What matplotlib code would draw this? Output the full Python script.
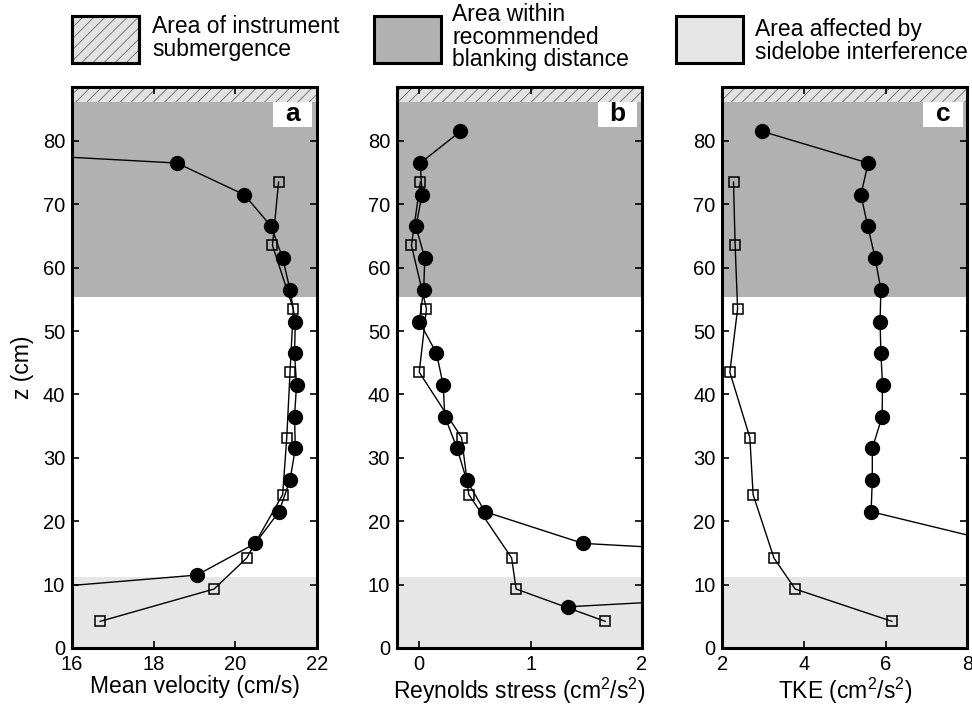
import matplotlib
matplotlib.use("Agg")
import matplotlib.pyplot as plt
from matplotlib.patches import Rectangle

plt.rcParams['font.family'] = ['Liberation Sans', 'DejaVu Sans']
plt.rcParams['mathtext.fontset'] = 'custom'
plt.rcParams['mathtext.rm'] = 'Liberation Sans'
plt.rcParams['mathtext.default'] = 'regular'
plt.rcParams['hatch.linewidth'] = 0.6

# depths of the two profiles (cm)
z_circle = [81.5, 76.5, 71.5, 66.5, 61.5, 56.5, 51.5, 46.5, 41.5, 36.5,
            31.5, 26.5, 21.5, 16.5, 11.5, 6.5]
z_square = [73.5, 63.5, 53.5, 43.5, 33.2, 24.2, 14.2, 9.3, 4.2]

# a: mean velocity (cm/s)
vel_circle = [4.3, 18.57, 20.22, 20.88, 21.16, 21.34, 21.47, 21.45, 21.5, 21.45,
              21.47, 21.34, 21.07, 20.49, 19.06, 9.7]
vel_square = [21.06, 20.91, 21.42, 21.34, 21.26, 21.16, 20.28, 19.48, 16.69]

# b: Reynolds stress (cm2/s2)
rs_circle = [0.37, 0.01, 0.025, -0.03, 0.05, 0.04, 0.0, 0.155, 0.215, 0.23,
             0.34, 0.425, 0.59, 1.47, 6.6, 1.34]
rs_square = [0.01, -0.07, 0.065, 0.0, 0.38, 0.445, 0.83, 0.87, 1.67]

# c: TKE (cm2/s2)
tke_circle = [2.97, 5.57, 5.39, 5.56, 5.74, 5.88, 5.86, 5.88, 5.92, 5.91,
              5.67, 5.67, 5.64, 8.84]
tke_square = [2.27, 2.31, 2.37, 2.18, 2.67, 2.75, 3.26, 3.78, 6.15]

# zones (cm)
z_top = 88.5
z_submerge = 86.2
z_blank = 55.3
z_sidelobe = 11.2

panels = [
    ("a", vel_circle, vel_square, (16, 22), [16, 18, 20, 22], "Mean velocity (cm/s)"),
    ("b", rs_circle, rs_square, (-0.2, 2), [0, 1, 2], "Reynolds stress (cm$^2$/s$^2$)"),
    ("c", tke_circle, tke_square, (2, 8), [2, 4, 6, 8], "TKE (cm$^2$/s$^2$)"),
]

col_blank = '#b1b1b1'
col_side = '#e6e6e6'
col_sub = '#e2e2e2'

fig = plt.figure(figsize=(9.72, 7.06), dpi=100)
lefts = [0.0741, 0.4084, 0.7433]

for left, (letter, xc, xs, xlim, xticks, xlabel) in zip(lefts, panels):
    ax = fig.add_axes([left, 0.0822, 0.252, 0.7946])
    ax.axhspan(z_blank, z_submerge, color=col_blank, lw=0, zorder=0)
    ax.axhspan(0, z_sidelobe, color=col_side, lw=0, zorder=0)
    ax.axhspan(z_submerge, z_top, facecolor=col_sub, edgecolor='#6a6a6a',
               hatch='///', lw=0, zorder=0)

    ax.plot(xc, z_circle[:len(xc)], '-o', color='black', lw=1.0,
            ms=10, mfc='black', mec='black', zorder=3)
    ax.plot(xs, z_square, '-s', color='black', lw=1.0,
            ms=7.5, mfc='none', mec='black', mew=1.1, zorder=4)

    ax.set_xlim(*xlim)
    ax.set_ylim(0, z_top)
    ax.set_xticks(xticks)
    ax.set_yticks(range(0, 81, 10))
    ax.tick_params(direction='in', top=True, right=True, length=5, width=1.2,
                   labelsize=14.5)
    ax.tick_params(axis='x', pad=5)
    ax.tick_params(axis='y', pad=5)
    for s in ax.spines.values():
        s.set_linewidth(2.2)
    ax.set_xlabel(xlabel, fontsize=16.5, labelpad=1)
    if letter == "a":
        ax.set_ylabel("z (cm)", fontsize=16.5, labelpad=6)

    ax.add_patch(Rectangle((0.82, 0.929), 0.16, 0.044, transform=ax.transAxes,
                           facecolor='white', edgecolor='none', zorder=5))
    ax.text(0.90, 0.952, letter, transform=ax.transAxes, ha='center', va='center',
            fontsize=19, fontweight='bold', zorder=6)

# legend row across the top
W, H = 972.0, 706.0
legend_items = [
    (72, 152, col_sub, True, "Area of instrument\nsubmergence", 38),
    (374, 452, col_blank, False, "Area within\nrecommended\nblanking distance", 37),
    (676, 755, col_side, False, "Area affected by\nsidelobe interference", 41),
]
for bx, tx, fc, hatched, label, ty in legend_items:
    rect = Rectangle((bx / W, 1 - 63 / H), 67 / W, 47 / H, transform=fig.transFigure,
                     facecolor=fc, edgecolor='black', lw=2.2)
    fig.add_artist(rect)
    if hatched:
        fig.add_artist(Rectangle((bx / W, 1 - 63 / H), 67 / W, 47 / H,
                                 transform=fig.transFigure, facecolor='none',
                                 edgecolor='#6a6a6a', hatch='///', lw=0))
        fig.add_artist(Rectangle((bx / W, 1 - 63 / H), 67 / W, 47 / H,
                                 transform=fig.transFigure, facecolor='none',
                                 edgecolor='black', lw=2.2))
    fig.text(tx / W, 1 - ty / H, label, ha='left', va='center', fontsize=16.5,
             linespacing=0.95)

fig.savefig("out.png", dpi=100)
